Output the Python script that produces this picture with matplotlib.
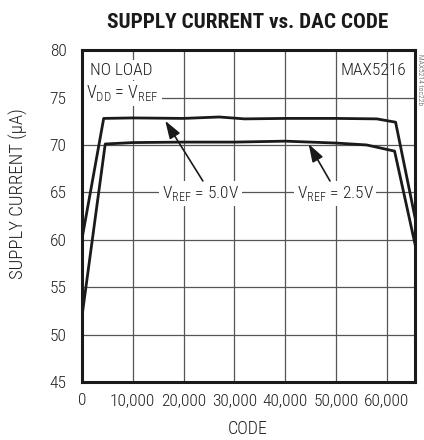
import matplotlib.pyplot as plt
from matplotlib.ticker import FuncFormatter

plt.rcParams['font.family'] = ['Roboto Condensed', 'DejaVu Sans']
plt.rcParams['font.weight'] = 'light'

# VREF = 5.0V
code_5v = [0, 4300, 10000, 20000, 27000, 32000, 40000, 50000, 58000, 61700, 65535]
curr_5v = [60.0, 72.8, 72.85, 72.8, 72.95, 72.75, 72.8, 72.8, 72.75, 72.4, 62.3]

# VREF = 2.5V
code_25v = [0, 4600, 10000, 20000, 30000, 40000, 50000, 56000, 61500, 65535]
curr_25v = [51.8, 70.1, 70.25, 70.3, 70.3, 70.4, 70.2, 70.0, 69.35, 59.5]

xticks = [0, 10000, 20000, 30000, 40000, 50000, 60000]
yticks = [45, 50, 55, 60, 65, 70, 75, 80]

fig = plt.figure(figsize=(4.24, 4.40), dpi=100)
ax = fig.add_axes([0.193, 0.132, 0.786, 0.754])

ax.plot(code_5v, curr_5v, color='#1a1a1a', linewidth=2.0, zorder=3)
ax.plot(code_25v, curr_25v, color='#1a1a1a', linewidth=2.0, zorder=3)

ax.set_xlim(0, 65535)
ax.set_ylim(45, 80)
ax.set_xticks(xticks)
ax.set_yticks(yticks)
ax.xaxis.set_major_formatter(FuncFormatter(lambda v, p: '{:,}'.format(int(v))))
ax.tick_params(length=0, labelsize=12.5, colors='#231f20')
ax.tick_params(axis='x', pad=8)
ax.tick_params(axis='y', pad=11)
ax.grid(True, color='#555555', linewidth=0.9)
for s in ax.spines.values():
    s.set_linewidth(2.2)
    s.set_color('#1a1a1a')
    s.set_zorder(6)

fig.text(0.585, 0.024, 'CODE', fontsize=13, ha='center', va='center', color='#231f20')
fig.text(0.043, 0.561, 'SUPPLY CURRENT (μA)', fontsize=13.5, rotation=90,
         ha='center', va='center', color='#231f20')
fig.text(0.584, 0.95, 'SUPPLY CURRENT vs. DAC CODE', ha='center', va='center',
         fontsize=15.3, fontweight='bold', color='#1a1a1a')

box = dict(facecolor='white', edgecolor='none', pad=2)
ax.text(1600, 77.9, 'NO LOAD', fontsize=12.5, va='center', color='#231f20', bbox=box)
ax.text(900, 75.45, r'V$_{\mathregular{DD}}$ = V$_{\mathregular{REF}}$', fontsize=13,
        va='center', color='#231f20', bbox=box)
ax.text(63700, 77.9, 'MAX5216', fontsize=12.5, va='center', ha='right', color='#231f20')
fig.text(0.991, 0.82, 'MAX5214 toc22b', fontsize=5.5, rotation=270, ha='center',
         va='center', color='#444444')

ax.text(23300, 64.9, r'V$_{\mathregular{REF}}$ = 5.0V', fontsize=12.5, ha='center',
        va='center', color='#231f20', bbox=box, zorder=4)
ax.text(49800, 64.9, r'V$_{\mathregular{REF}}$ = 2.5V', fontsize=12.5, ha='center',
        va='center', color='#231f20', bbox=box, zorder=4)

arrow = dict(arrowstyle='-|>,head_length=0.9,head_width=0.3', color='#1a1a1a',
             linewidth=1.2, mutation_scale=12, shrinkA=0, shrinkB=0)
ax.annotate('', xy=(16400, 72.55), xytext=(23800, 66.2), arrowprops=arrow, zorder=5)
ax.annotate('', xy=(44600, 70.1), xytext=(48800, 66.2), arrowprops=arrow, zorder=5)

fig.savefig('out.png', dpi=100)
